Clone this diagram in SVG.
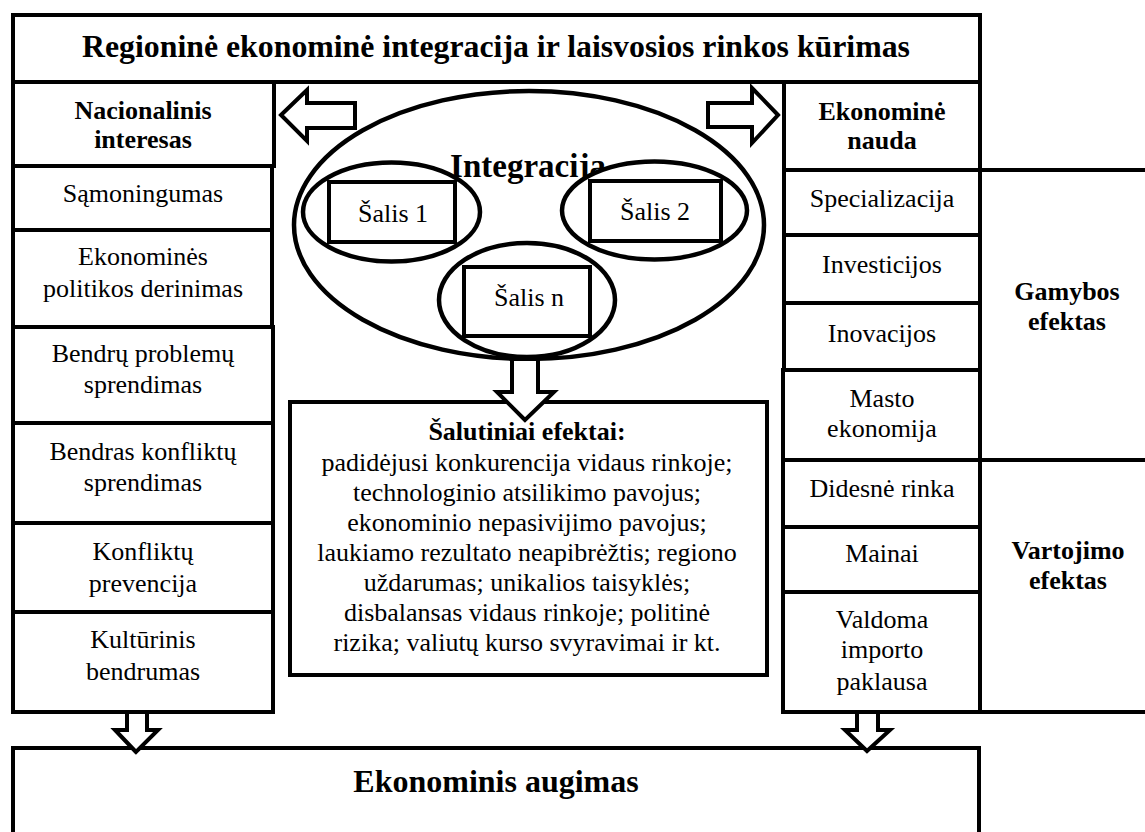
<svg xmlns="http://www.w3.org/2000/svg" width="1145" height="832" viewBox="0 0 1145 832">
<style>
.box{fill:#fff;stroke:#000;stroke-width:4}
.ell{fill:#fff;stroke:#000;stroke-width:4.5}
.ln{fill:none;stroke:#000;stroke-width:4}
.arr{fill:#fff;stroke:#000;stroke-width:4;stroke-linejoin:miter}
text{font-family:"Liberation Serif","Times New Roman",serif;font-size:26px;text-anchor:middle;fill:#000}
.b{font-weight:bold}
</style>
<rect width="1145" height="832" fill="#fff"/>
<g id="title"><rect class="box" x="13" y="15" width="967" height="67"/><text class="b" x="496" y="57" style="font-size:31.8px">Regioninė ekonominė integracija ir laisvosios rinkos kūrimas</text></g>
<g id="left-column">
<g id="nacionalinis"><rect class="box" x="13" y="82" width="261" height="84"/><text class="b" x="143" y="119">Nacionalinis</text><text class="b" x="143" y="148">interesas</text></g>
<g id="samoningumas"><rect class="box" x="13" y="166" width="259" height="64"/><text x="143" y="202">Sąmoningumas</text></g>
<g id="derinimas"><rect class="box" x="13" y="230" width="259" height="97"/><text x="143" y="265">Ekonominės</text><text x="143" y="297">politikos derinimas</text></g>
<g id="problemos"><rect class="box" x="13" y="327" width="260" height="96"/><text x="143" y="362">Bendrų problemų</text><text x="143" y="393">sprendimas</text></g>
<g id="konfliktai"><rect class="box" x="13" y="423" width="260" height="100"/><text x="143" y="460">Bendras konfliktų</text><text x="143" y="491">sprendimas</text></g>
<g id="prevencija"><rect class="box" x="13" y="523" width="260" height="89"/><text x="143" y="560">Konfliktų</text><text x="143" y="592">prevencija</text></g>
<g id="kulturinis"><rect class="box" x="13" y="612" width="260" height="100"/><text x="143" y="648">Kultūrinis</text><text x="143" y="680">bendrumas</text></g>
</g>
<g id="right-column">
<g id="nauda"><rect class="box" x="784" y="82" width="196" height="88"/><text class="b" x="882" y="120">Ekonominė</text><text class="b" x="882" y="149">nauda</text></g>
<g id="specializacija"><rect class="box" x="784" y="170" width="196" height="65"/><text x="882" y="207">Specializacija</text></g>
<g id="investicijos"><rect class="box" x="784" y="235" width="196" height="68"/><text x="882" y="273">Investicijos</text></g>
<g id="inovacijos"><rect class="box" x="784" y="303" width="196" height="67"/><text x="882" y="342">Inovacijos</text></g>
<g id="masto"><rect class="box" x="783" y="370" width="197" height="90"/><text x="882" y="407">Masto</text><text x="882" y="437">ekonomija</text></g>
<g id="rinka"><rect class="box" x="783" y="460" width="197" height="67"/><text x="882" y="497">Didesnė rinka</text></g>
<g id="mainai"><rect class="box" x="783" y="527" width="197" height="65"/><text x="882" y="562">Mainai</text></g>
<g id="paklausa"><rect class="box" x="783" y="592" width="197" height="120"/><text x="882" y="628">Valdoma</text><text x="882" y="658">importo</text><text x="882" y="690">paklausa</text></g>
</g>
<g id="gamybos"><text class="b" x="1067" y="300">Gamybos</text><text class="b" x="1067" y="330">efektas</text></g>
<g id="vartojimo"><text class="b" x="1068" y="559">Vartojimo</text><text class="b" x="1068" y="589">efektas</text></g>
<g id="integracija">
<ellipse class="ell" cx="529" cy="225" rx="235" ry="134"/>
<text class="b" x="528" y="177" style="font-size:33px">Integracija</text>
<g id="salis1"><ellipse class="ell" cx="391.5" cy="212" rx="88.5" ry="49.5"/><rect class="box" x="329" y="182" width="126" height="60"/><text x="393" y="222">Šalis 1</text></g>
<g id="salis2"><ellipse class="ell" cx="654.5" cy="210.5" rx="92.5" ry="49"/><rect class="box" x="590" y="181" width="131" height="60"/><text x="655" y="220">Šalis 2</text></g>
<g id="salisn"><ellipse class="ell" cx="527" cy="300" rx="88" ry="57"/><rect class="box" x="464" y="267" width="126" height="69"/><text x="529" y="306">Šalis n</text></g>
</g>
<g id="salutiniai">
<rect class="box" x="290" y="402" width="477" height="273"/>
<text class="b" x="527" y="440">Šalutiniai efektai:</text>
<text x="527" y="470.5">padidėjusi konkurencija vidaus rinkoje;</text>
<text x="527" y="500.5">technologinio atsilikimo pavojus;</text>
<text x="527" y="530.5">ekonominio nepasivijimo pavojus;</text>
<text x="527" y="561">laukiamo rezultato neapibrėžtis; regiono</text>
<text x="527" y="591">uždarumas; unikalios taisyklės;</text>
<text x="527" y="621">disbalansas vidaus rinkoje; politinė</text>
<text x="527" y="651">rizika; valiutų kurso svyravimai ir kt.</text>
</g>
<g id="augimas"><rect class="box" x="13" y="748" width="966" height="120"/><text class="b" x="496" y="792" style="font-size:32px">Ekonominis augimas</text></g>
<g id="connectors">
<line class="ln" x1="980" y1="170" x2="1145" y2="170"/>
<line class="ln" x1="980" y1="460" x2="1145" y2="460"/>
<line class="ln" x1="980" y1="712" x2="1145" y2="712"/>
<path class="arr" d="M281,115 L307,90 L307,103 L355,103 L355,128 L307,128 L307,141 Z"/>
<path class="arr" d="M778,115 L752,88 L752,103 L708,103 L708,127 L752,127 L752,143 Z"/>
<path class="arr" d="M525,420 L497,392 L512,392 L512,359 L538,359 L538,392 L554,392 Z"/>
<path class="arr" d="M136,752 L115,730 L127,730 L127,712 L147,712 L147,730 L158,730 Z"/>
<path class="arr" d="M867,751 L845,730 L857,730 L857,712 L878,712 L878,730 L890,730 Z"/>
</g>
</svg>
